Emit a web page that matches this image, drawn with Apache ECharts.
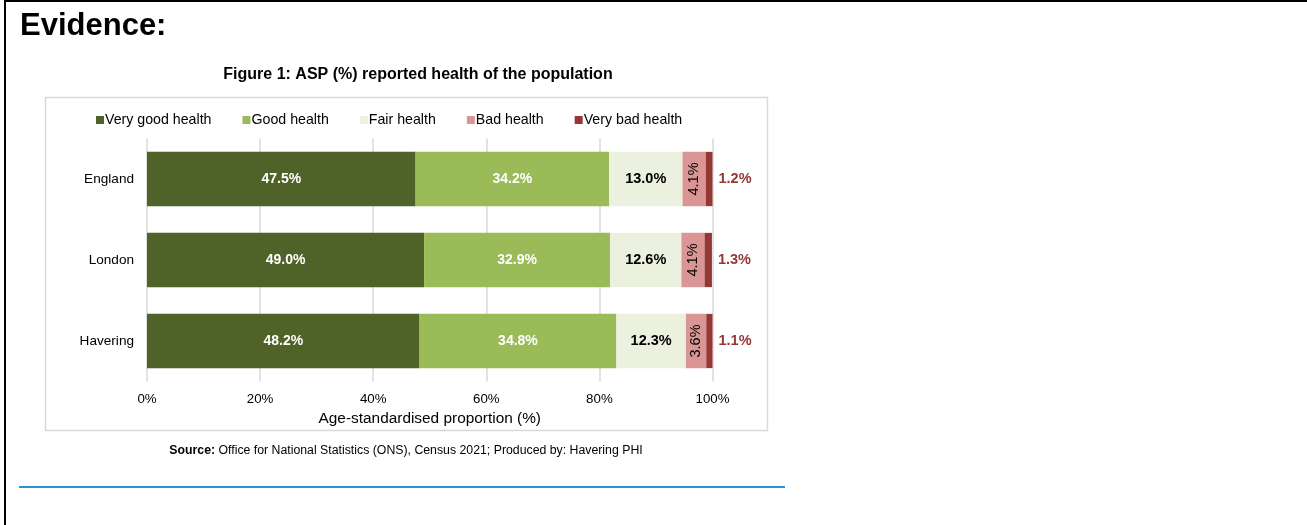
<!DOCTYPE html>
<html>
<head>
<meta charset="utf-8">
<script src="https://cdn.jsdelivr.net/npm/echarts@6/dist/echarts.min.js"></script>
<style>
  html, body { margin: 0; padding: 0; background: #fff; }
  #chart { width: 1307px; height: 525px; }
</style>
</head>
<body>
<div id="chart"></div>
<script>
// Age-standardised proportions (%) of self-reported health, Census 2021
const areas = ['England', 'London', 'Havering'];
const veryGood = [47.5, 49.0, 48.2];
const good = [34.2, 32.9, 34.8];
const fair = [13.0, 12.6, 12.3];
const bad = [4.1, 4.1, 3.6];
const veryBad = [1.2, 1.3, 1.1];
const seriesNames = ['Very good health', 'Good health', 'Fair health', 'Bad health', 'Very bad health'];
const seriesColors = ['#4f6228', '#9bbb59', '#ebf1de', '#d99694', '#953735'];

const FONT = '"Liberation Sans", Arial, sans-serif';
const pct = p => p.value.toFixed(1) + '%';

const labelStyles = [
  { show: true, position: 'inside', color: '#fff', fontWeight: 'bold', fontSize: 14, formatter: pct },
  { show: true, position: 'inside', color: '#fff', fontWeight: 'bold', fontSize: 14, formatter: pct },
  { show: true, position: 'inside', color: '#000', fontWeight: 'bold', fontSize: 14.5, formatter: pct },
  { show: true, position: 'inside', color: '#000', fontSize: 14.5, rotate: 90, formatter: pct },
  { show: true, position: 'right', distance: 6, color: '#953735', fontWeight: 'bold', fontSize: 14.5, formatter: pct }
];

const values = [veryGood, good, fair, bad, veryBad];

const chart = echarts.init(document.getElementById('chart'), null, { renderer: 'canvas' });
chart.setOption({
  animation: false,
  textStyle: { fontFamily: FONT },
  graphic: [
    // page frame
    { type: 'line', shape: { x1: 4, y1: 1, x2: 1307, y2: 1 }, style: { stroke: '#000', lineWidth: 2 } },
    { type: 'line', shape: { x1: 5, y1: 0, x2: 5, y2: 525 }, style: { stroke: '#000', lineWidth: 2 } },
    // heading
    { type: 'text', left: 20, top: 11,
      style: { text: 'Evidence:', font: 'bold 31px ' + FONT, fill: '#000' } },
    // chart box
    { type: 'rect', shape: { x: 45.5, y: 97.5, width: 722, height: 333 },
      style: { fill: 'none', stroke: '#d9d9d9', lineWidth: 1.5 }, z: -1 },
    // source note
    { type: 'text', x: 406, y: 451,
      style: {
        text: '{b|Source:} Office for National Statistics (ONS), Census 2021; Produced by: Havering PHI',
        rich: {
          b: { fontWeight: 'bold', fontSize: 12.3, fontFamily: FONT, fill: '#000' }
        },
        fontSize: 12.3, fontFamily: FONT, fill: '#000',
        align: 'center', verticalAlign: 'middle'
      } },
    // divider
    { type: 'line', shape: { x1: 19, y1: 487, x2: 785, y2: 487 }, style: { stroke: '#2b93d1', lineWidth: 2 } }
  ],
  title: {
    text: 'Figure 1: ASP (%) reported health of the population',
    left: 413, top: 62, textAlign: 'center',
    textStyle: { fontSize: 16, fontWeight: 'bold', color: '#000', fontFamily: FONT }
  },
  legend: {
    left: 91, top: 108,
    itemWidth: 8, itemHeight: 8, itemGap: 31,
    icon: 'rect',
    data: seriesNames,
    textStyle: { fontSize: 14.2, color: '#000', fontFamily: FONT, padding: [0, 0, 0, -4] }
  },
  grid: { left: 147, right: 594.5, top: 138.5, height: 243, containLabel: false },
  xAxis: {
    type: 'value', min: 0, max: 100, interval: 20,
    axisLabel: { formatter: '{value}%', fontSize: 13.3, color: '#000', margin: 11 },
    axisLine: { show: false }, axisTick: { show: false },
    splitLine: { lineStyle: { color: '#d9d9d9', width: 1.5 } },
    name: 'Age-standardised proportion (%)', nameLocation: 'middle', nameGap: 30,
    nameTextStyle: { fontSize: 15.4, color: '#000' }
  },
  yAxis: {
    type: 'category', data: areas, inverse: true,
    axisLine: { show: false }, axisTick: { show: false },
    axisLabel: { fontSize: 13.6, color: '#000', margin: 13 }
  },
  series: seriesNames.map((name, i) => ({
    name, type: 'bar', stack: 'total',
    data: values[i],
    barCategoryGap: '33%',
    itemStyle: { color: seriesColors[i] },
    label: labelStyles[i]
  }))
});
</script>
</body>
</html>
